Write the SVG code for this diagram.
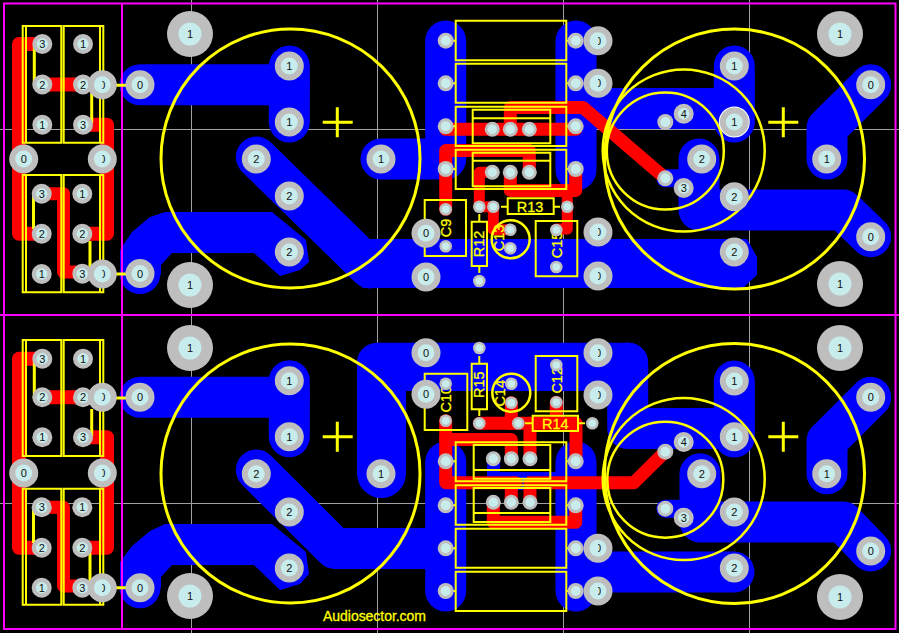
<svg xmlns="http://www.w3.org/2000/svg" width="899" height="633" viewBox="0 0 899 633">
<style>
.g{stroke:#a0a0a0;stroke-width:1;fill:none}
.b{stroke:#00f;stroke-width:41;stroke-linecap:round;stroke-linejoin:round;fill:none}
.bf{fill:#00f}
.r{stroke:#f00;stroke-width:13;stroke-linecap:round;stroke-linejoin:round;fill:none}
.y{stroke:#ff0;stroke-width:2;fill:none}
.yt{stroke:#ff0;stroke-width:3;fill:none}
.m{stroke:#f0f;stroke-width:2;fill:none}
.t{font:14.5px "Liberation Sans",Arial,sans-serif;fill:#ff0;stroke:#ff0;stroke-width:.3;text-anchor:middle;dominant-baseline:central}
.l{font:11px "Liberation Sans",Arial,sans-serif;fill:#111;text-anchor:middle;dominant-baseline:central}
.h{clip-path:url(#half)}
</style>
<defs>
<clipPath id="half" clipPathUnits="objectBoundingBox"><rect x="0.5" y="0" width="0.6" height="1"/></clipPath>
<g id="P"><circle r="23" fill="#bebebe"/><circle r="11.5" fill="#c8ebeb"/></g>
<g id="M"><circle r="14.5" fill="#bebebe"/><circle r="8.5" fill="#c8ebeb"/></g>
<g id="S"><circle r="10" fill="#bebebe"/><circle r="5.7" fill="#c8ebeb"/></g>
<g id="C"><circle r="8" fill="#bebebe"/><circle r="5" fill="#c8ebeb"/></g>
<g id="T"><circle r="7.5" fill="#bebebe"/><circle r="4.7" fill="#c8ebeb"/></g>
<g id="U"><circle r="6.3" fill="#bebebe"/><circle r="3.8" fill="#c8ebeb"/></g>
</defs>
<rect width="899" height="633" fill="#000"/>
<g id="grid">
<path class="g" d="M0 129.5H899M0 503.5H899M191.5 0V633M377.5 0V633M563.5 0V633M749.5 0V633"/>
</g>
<g id="copper-blue">
<path class="b" d="M140 84.7H289.3"/>
<path class="b" d="M289.3 66V122"/>
<path class="b" d="M256.3 157L370 268"/>
<path class="b" d="M381 159H445"/>
<path class="b" d="M445.7 41V159"/>
<path class="b" d="M576 41V170"/>
<path class="b" d="M576 108.5H734"/>
<path class="b" d="M734.3 66V122"/>
<path class="b" d="M699 159V210H843L870.7 236.7"/>
<path class="b" style="stroke-width:18" d="M665.3 178.3H690"/>
<path class="b" d="M870.7 84.7L827 128V159"/>
<polygon class="bf" points="370,239 747,239 757,257 757,275 743,288 363,288 350,277 330,250"/>
<polygon class="bf" points="120,273 120,250 132,232 150,217 165,212 272,212 306,240 309,262 300,270 280,276 254,253 172,253 161,265 161,274"/>
<circle class="bf" cx="140" cy="273.5" r="20.5"/>
<path class="b" d="M140 397.3H289.3"/>
<path class="b" d="M289.3 380.7V436.7"/>
<path class="b" d="M256.3 470L335 548.5H445"/>
<path class="b" d="M445.7 462V591"/>
<path class="b" d="M576 462V591"/>
<path class="b" d="M576 572H734"/>
<rect class="bf" x="357" y="342.7" width="291" height="48.3" rx="20"/>
<rect class="bf" x="357" y="360" width="49" height="114"/>
<circle class="bf" cx="381.5" cy="473.5" r="24.5"/>
<path class="b" d="M627.7 363V428.5H734"/>
<path class="b" d="M734.3 381V437"/>
<path class="b" d="M700 473.7V522H843L870.7 551"/>
<path class="b" style="stroke-width:18" d="M665.3 508.7H690"/>
<path class="b" d="M870.7 397.3L827 441V473.7"/>
<polygon class="bf" points="120,587 120,562 132,546 150,531 165,524 272,524 306,552 309,574 300,584 280,590 254,565 172,565 161,577 161,588"/>
<circle class="bf" cx="140" cy="587.7" r="20.5"/>
<rect class="bf" x="487" y="459" width="13" height="18"/>
<rect class="bf" x="500" y="472" width="62" height="6"/>
<rect class="bf" x="516" y="476" width="11" height="14"/>
</g>
<g id="copper-red">
<path class="r" style="stroke-width:14" d="M42.3 44H19V233.7H42"/>
<path class="r" style="stroke-width:14" d="M42.3 84.5H83"/>
<path class="r" style="stroke-width:14" d="M83 124.7H107V233.7H82"/>
<path class="r" d="M41.7 193.7H63.5V272H82"/>
<path class="r" d="M445.7 129.3H575.7"/>
<path class="r" d="M510.3 129.3V107.5H583L665.3 178.3"/>
<path class="r" d="M445.7 209.3V150.5H529.3V172.3"/>
<path class="r" style="stroke-width:11" d="M492.3 172.3H479.3V206.7H493.3V229.7H510.3"/>
<path class="r" d="M510.3 172.3V190.5H575.7V169"/>
<path class="r" style="stroke-width:11" d="M567.3 190.5V229H556.3"/>
<path class="r" style="stroke-width:14" d="M42.3 358.7H19V547.7H42"/>
<path class="r" style="stroke-width:14" d="M42.3 397.3H83"/>
<path class="r" style="stroke-width:14" d="M83 437.3H107V547.7H82"/>
<path class="r" d="M41.7 507.3H63.5V586H82"/>
<path class="r" d="M445.7 420.7V482.7H516"/>
<path class="r" style="stroke-linecap:butt" d="M527 482.7H634L665.3 451.7"/>
<path class="r" d="M445.7 439.5H511.3V458.7"/>
<path class="r" d="M479.3 423.3H576V461"/>
<path class="r" d="M511.3 402.7V423.3"/>
<path class="r" d="M556.3 402.3V423.3"/>
<path class="r" d="M530 458.7V423.3"/>
<path class="r" d="M511.3 502.3V484"/>
<path class="r" d="M530 502.3V484"/>
<path class="r" d="M493.3 502.3V522.3H575.7V505.3"/>
</g>
<g id="outline">
<rect class="m" x="4" y="3.500" width="891.500" height="625.500"/>
<path class="m" d="M122 3.500V629M0 315H899"/>
</g>
<g id="silkscreen">
<path class="y" d="M22.700 26H61.300V142.700H22.700ZM26 26V142.700M63.700 26H103.300V142.700H63.700ZM100 26V142.700"/>
<path class="y" d="M22.700 175H61.300V292.300H22.700ZM26 175V292.300M63.700 175H103.300V292.300H63.700ZM100 175V292.300"/>
<path class="y" d="M22.700 340H61.300V456H22.700ZM26 340V456M63.700 340H103.300V456H63.700ZM100 340V456"/>
<path class="y" d="M22.700 488.700H61.300V604.700H22.700ZM26 488.700V604.700M63.700 488.700H103.300V604.700H63.700ZM100 488.700V604.700"/>
<path class="yt" d="M34.300 45V83M91.700 93V123M33.500 195V229M90 241V270M116 85.300H127M116 274H127"/>
<path class="yt" d="M34.300 359V397M91.700 409V436M33.500 508V543M90 553V585M116 398H127M116 587.700H127"/>
<circle class="yt" cx="290.500" cy="158.500" r="129.500"/>
<circle class="yt" cx="734.500" cy="159" r="130"/>
<circle class="yt" cx="290.500" cy="473.500" r="129.500"/>
<circle class="yt" cx="734.500" cy="473.500" r="130"/>
<circle class="y" style="stroke-width:2.500" cx="683.700" cy="150.500" r="81"/>
<circle class="y" style="stroke-width:2.500" cx="665.300" cy="151" r="58.500"/>
<circle class="y" style="stroke-width:2.500" cx="683.700" cy="479" r="81"/>
<circle class="y" style="stroke-width:2.500" cx="665.300" cy="479.700" r="58"/>
<path class="yt" d="M322.700 122.300H352.700M337.300 107.300V137.300M768.300 122.300H798.300M783.300 107.300V137.300M322.700 436.700H352.700M337.300 421.700V451.700M768.300 436.700H798.300M783.300 421.700V451.700"/>
<path class="y" d="M455.700 20.700H566.300V60.300H455.700ZM455.700 63.700H566.300V102.700H455.700ZM455.700 106.700H566.300V146H455.700ZM455.700 149.700H566.300V189H455.700Z"/>
<path class="y" d="M472.700 109.700H550.300V143.300H472.700ZM472.700 118.300H550.300M472.700 152.700H550.300V186.300H472.700ZM472.700 160.700H550.300"/>
<path class="y" d="M453 40.700H456M566 40.700H570M453 83.300H456M566 83.300H570M453 126.300H456M566 126.300H570M453 169H456M566 169H570"/>
<path class="y" d="M424.700 200H466V256H424.700ZM471.700 221.700H487V266H471.700ZM507.700 198.300H553.700V214H507.700ZM535.700 221H577.300V276.300H535.700Z"/>
<path class="y" d="M479.300 214V221.700M479.300 266V273M501 206.700H507.700M553.700 206.700H560"/>
<circle class="y" style="stroke-width:2.500" cx="510.700" cy="239.300" r="19"/>
<path class="y" d="M455.700 442.300H566.300V481.300H455.700ZM455.700 485.300H566.300V524.700H455.700ZM455.700 528.700H566.300V567.700H455.700ZM455.700 571.700H566.300V611H455.700Z"/>
<path class="y" d="M473.700 445H550.300V478.700H473.700ZM473.700 470H550.300M473.700 488H550.300V522H473.700ZM473.700 513H550.300"/>
<path class="y" d="M453 461.300H456M566 461.300H570M453 505.300H456M566 505.300H570M453 548.300H456M566 548.300H570M453 591H456M566 591H570"/>
<path class="y" d="M424.700 373.700H467.300V430H424.700ZM471.700 363.700H487V409.300H471.700ZM532.700 415.700H578V431H532.700ZM535.700 356H577.300V411.300H535.700Z"/>
<path class="y" d="M479.300 356V363.700M479.300 409.300V416M525 423.300H532.700M578 423.300H585"/>
<circle class="y" style="stroke-width:2.500" cx="511.300" cy="392.700" r="19"/>
<text class="t" transform="translate(445.700 228) rotate(-90)">C9</text>
<text class="t" transform="translate(479.300 244) rotate(-90)">R12</text>
<text class="t" x="530" y="206.500">R13</text>
<text class="t" transform="translate(499 238) rotate(-90)">C13</text>
<text class="t" transform="translate(556.700 245) rotate(-90)">C15</text>
<text class="t" transform="translate(446 399.300) rotate(-90)">C10</text>
<text class="t" transform="translate(479.300 384.700) rotate(-90)">R15</text>
<text class="t" transform="translate(500 393.300) rotate(-90)">C14</text>
<text class="t" transform="translate(556.700 380.300) rotate(-90)">C12</text>
<text class="t" x="555.300" y="423.500">R14</text>
<text class="t" x="374.500" y="616" style="font-size:14px" textLength="103">Audiosector.com</text>
</g>
<g id="pads-top">
<use href="#P" x="190" y="34"/><text class="l" x="190" y="34">1</text>
<use href="#P" x="190" y="285"/><text class="l" x="190" y="285">1</text>
<use href="#P" x="840" y="34"/><text class="l" x="840" y="34">1</text>
<use href="#P" x="840" y="284"/><text class="l" x="840" y="284">1</text>
<use href="#S" x="42.300" y="44"/><text class="l" x="42.300" y="44">3</text>
<use href="#S" x="42.300" y="84.500"/><text class="l" x="42.300" y="84.500">2</text>
<use href="#S" x="42.300" y="124.700"/><text class="l" x="42.300" y="124.700">1</text>
<use href="#S" x="83" y="44"/><text class="l" x="83" y="44">1</text>
<use href="#S" x="83" y="84.500"/><text class="l" x="83" y="84.500">2</text>
<use href="#S" x="83" y="124.700"/><text class="l" x="83" y="124.700">3</text>
<use href="#S" x="41.700" y="193.700"/><text class="l" x="41.700" y="193.700">3</text>
<use href="#S" x="41.700" y="233.700"/><text class="l" x="41.700" y="233.700">2</text>
<use href="#S" x="41.700" y="274"/><text class="l" x="41.700" y="274">1</text>
<use href="#S" x="82.300" y="193.700"/><text class="l" x="82.300" y="193.700">1</text>
<use href="#S" x="82.300" y="233.700"/><text class="l" x="82.300" y="233.700">2</text>
<use href="#S" x="82.300" y="273.700"/><text class="l" x="82.300" y="273.700">3</text>
<use href="#M" x="102.300" y="84.700"/><text class="l h" x="102.300" y="84.700">0</text>
<use href="#M" x="140" y="84.700"/><text class="l" x="140" y="84.700">0</text>
<use href="#M" x="23.700" y="159"/><text class="l" x="23.700" y="159">0</text>
<use href="#M" x="102.300" y="159"/><text class="l h" x="102.300" y="159">0</text>
<use href="#M" x="102.300" y="274"/><text class="l h" x="102.300" y="274">0</text>
<use href="#M" x="140" y="273.500"/><text class="l" x="140" y="273.500">0</text>
<use href="#M" x="289.300" y="66"/><text class="l" x="289.300" y="66">1</text>
<use href="#M" x="289.300" y="122"/><text class="l" x="289.300" y="122">1</text>
<use href="#M" x="256.300" y="159"/><text class="l" x="256.300" y="159">2</text>
<use href="#M" x="289.300" y="196"/><text class="l" x="289.300" y="196">2</text>
<use href="#M" x="289.300" y="252"/><text class="l" x="289.300" y="252">2</text>
<use href="#M" x="381" y="159"/><text class="l" x="381" y="159">1</text>
<use href="#C" x="445.700" y="40.700"/><use href="#C" x="445.700" y="83.300"/><use href="#C" x="445.700" y="126.300"/><use href="#C" x="445.700" y="169"/>
<use href="#M" x="598" y="40.700"/><text class="l h" x="598" y="40.700">0</text>
<use href="#M" x="598" y="83.300"/><text class="l h" x="598" y="83.300">0</text>
<use href="#C" x="575.700" y="40.700"/><use href="#C" x="575.700" y="83.300"/><use href="#C" x="575.700" y="126.300"/><use href="#C" x="575.700" y="169"/>
<use href="#T" x="492.300" y="129.300"/><use href="#T" x="510.300" y="129.300"/><use href="#T" x="529.300" y="129.300"/>
<use href="#T" x="492.300" y="172.300"/><use href="#T" x="510.300" y="172.300"/><use href="#T" x="529.300" y="172.300"/>
<use href="#U" x="445.700" y="209.300"/><use href="#U" x="445.700" y="246.300"/>
<use href="#M" x="426" y="233.300"/><text class="l" x="426" y="233.300">0</text>
<use href="#M" x="426" y="277"/><text class="l" x="426" y="277">0</text>
<use href="#U" x="479.300" y="206.700"/><use href="#U" x="493.300" y="206.700"/><use href="#U" x="567.300" y="206.700"/><use href="#U" x="479.300" y="281"/>
<use href="#U" x="510.300" y="229.700"/><use href="#U" x="510.300" y="248.300"/>
<use href="#U" x="556.300" y="230"/><use href="#U" x="556.300" y="267"/>
<use href="#M" x="598" y="232"/><text class="l h" x="598" y="232">0</text>
<use href="#M" x="598" y="276"/><text class="l h" x="598" y="276">0</text>
<use href="#M" x="734.300" y="66"/><text class="l" x="734.300" y="66">1</text>
<circle cx="734.300" cy="122" r="15.500" fill="#fff"/>
<use href="#M" x="734.300" y="122"/><text class="l" x="734.300" y="122">1</text>
<use href="#M" x="734.300" y="196.700"/><text class="l" x="734.300" y="196.700">2</text>
<use href="#M" x="734.300" y="252"/><text class="l" x="734.300" y="252">2</text>
<use href="#M" x="701.700" y="159"/><text class="l" x="701.700" y="159">2</text>
<use href="#M" x="870.700" y="84.700"/><text class="l" x="870.700" y="84.700">0</text>
<use href="#M" x="826.700" y="159"/><text class="l" x="826.700" y="159">1</text>
<use href="#M" x="870.700" y="236.700"/><text class="l" x="870.700" y="236.700">0</text>
<use href="#S" x="683.700" y="113.700"/><text class="l" x="683.700" y="113.700">4</text>
<use href="#C" x="665.300" y="122"/><use href="#C" x="665.300" y="178.300"/>
<use href="#S" x="683.700" y="188"/><text class="l" x="683.700" y="188">3</text>
</g>
<g id="pads-bottom">
<use href="#P" x="190" y="348"/><text class="l" x="190" y="348">1</text>
<use href="#P" x="190" y="596"/><text class="l" x="190" y="596">1</text>
<use href="#P" x="840" y="348"/><text class="l" x="840" y="348">1</text>
<use href="#P" x="840" y="597"/><text class="l" x="840" y="597">1</text>
<use href="#S" x="42.300" y="358.700"/><text class="l" x="42.300" y="358.700">3</text>
<use href="#S" x="42.300" y="397.300"/><text class="l" x="42.300" y="397.300">2</text>
<use href="#S" x="42.300" y="437.300"/><text class="l" x="42.300" y="437.300">1</text>
<use href="#S" x="83" y="358.700"/><text class="l" x="83" y="358.700">1</text>
<use href="#S" x="83" y="397.300"/><text class="l" x="83" y="397.300">2</text>
<use href="#S" x="83" y="437.300"/><text class="l" x="83" y="437.300">3</text>
<use href="#S" x="41.700" y="507.300"/><text class="l" x="41.700" y="507.300">3</text>
<use href="#S" x="41.700" y="547.700"/><text class="l" x="41.700" y="547.700">2</text>
<use href="#S" x="41.700" y="587.700"/><text class="l" x="41.700" y="587.700">1</text>
<use href="#S" x="82.300" y="507.300"/><text class="l" x="82.300" y="507.300">1</text>
<use href="#S" x="82.300" y="547.700"/><text class="l" x="82.300" y="547.700">2</text>
<use href="#S" x="82.300" y="587.700"/><text class="l" x="82.300" y="587.700">3</text>
<use href="#M" x="102.300" y="397.300"/><text class="l h" x="102.300" y="397.300">0</text>
<use href="#M" x="140" y="397.300"/><text class="l" x="140" y="397.300">0</text>
<use href="#M" x="23.700" y="473"/><text class="l" x="23.700" y="473">0</text>
<use href="#M" x="102.300" y="473"/><text class="l h" x="102.300" y="473">0</text>
<use href="#M" x="102.300" y="587.700"/><text class="l h" x="102.300" y="587.700">0</text>
<use href="#M" x="140" y="587.700"/><text class="l" x="140" y="587.700">0</text>
<use href="#M" x="289.300" y="380.700"/><text class="l" x="289.300" y="380.700">1</text>
<use href="#M" x="289.300" y="436.700"/><text class="l" x="289.300" y="436.700">1</text>
<use href="#M" x="256.300" y="473.700"/><text class="l" x="256.300" y="473.700">2</text>
<use href="#M" x="289.300" y="512"/><text class="l" x="289.300" y="512">2</text>
<use href="#M" x="289.300" y="568"/><text class="l" x="289.300" y="568">2</text>
<use href="#M" x="381" y="473.700"/><text class="l" x="381" y="473.700">1</text>
<use href="#M" x="426" y="352.700"/><text class="l" x="426" y="352.700">0</text>
<use href="#M" x="426" y="394.300"/><text class="l" x="426" y="394.300">0</text>
<use href="#U" x="445.700" y="383.700"/><use href="#U" x="445.700" y="420.700"/>
<use href="#U" x="479.300" y="348"/><use href="#U" x="479.300" y="423.300"/>
<use href="#U" x="511.300" y="383.700"/><use href="#U" x="511.300" y="402.700"/>
<use href="#U" x="556.300" y="365"/><use href="#U" x="556.300" y="402.300"/>
<use href="#U" x="518.300" y="423.300"/><use href="#U" x="592.300" y="423.300"/>
<use href="#T" x="493.300" y="458.700"/><use href="#T" x="511.300" y="458.700"/><use href="#T" x="530" y="458.700"/>
<use href="#T" x="493.300" y="502.300"/><use href="#T" x="511.300" y="502.300"/><use href="#T" x="530" y="502.300"/>
<use href="#C" x="445.700" y="461.300"/><use href="#C" x="445.700" y="505.300"/><use href="#C" x="445.700" y="548.300"/><use href="#C" x="445.700" y="591"/>
<use href="#M" x="598" y="352.700"/><text class="l h" x="598" y="352.700">0</text>
<use href="#M" x="598" y="395"/><text class="l h" x="598" y="395">0</text>
<use href="#M" x="598" y="548.300"/><text class="l h" x="598" y="548.300">0</text>
<use href="#M" x="598" y="591"/><text class="l h" x="598" y="591">0</text>
<use href="#C" x="575.700" y="461.300"/><use href="#C" x="575.700" y="505.300"/><use href="#C" x="575.700" y="548.300"/><use href="#C" x="575.700" y="591"/>
<use href="#M" x="734.300" y="381"/><text class="l" x="734.300" y="381">1</text>
<use href="#M" x="734.300" y="436.700"/><text class="l" x="734.300" y="436.700">1</text>
<use href="#M" x="734.300" y="512"/><text class="l" x="734.300" y="512">2</text>
<use href="#M" x="734.300" y="568"/><text class="l" x="734.300" y="568">2</text>
<use href="#M" x="701.700" y="473.700"/><text class="l" x="701.700" y="473.700">2</text>
<use href="#M" x="870.700" y="397.300"/><text class="l" x="870.700" y="397.300">0</text>
<use href="#M" x="826.700" y="473.700"/><text class="l" x="826.700" y="473.700">1</text>
<use href="#M" x="870.700" y="551"/><text class="l" x="870.700" y="551">0</text>
<use href="#S" x="683.700" y="442"/><text class="l" x="683.700" y="442">4</text>
<use href="#C" x="665.300" y="451.700"/><use href="#C" x="665.300" y="508.700"/>
<use href="#S" x="683.700" y="517.700"/><text class="l" x="683.700" y="517.700">3</text>
</g>
</svg>
